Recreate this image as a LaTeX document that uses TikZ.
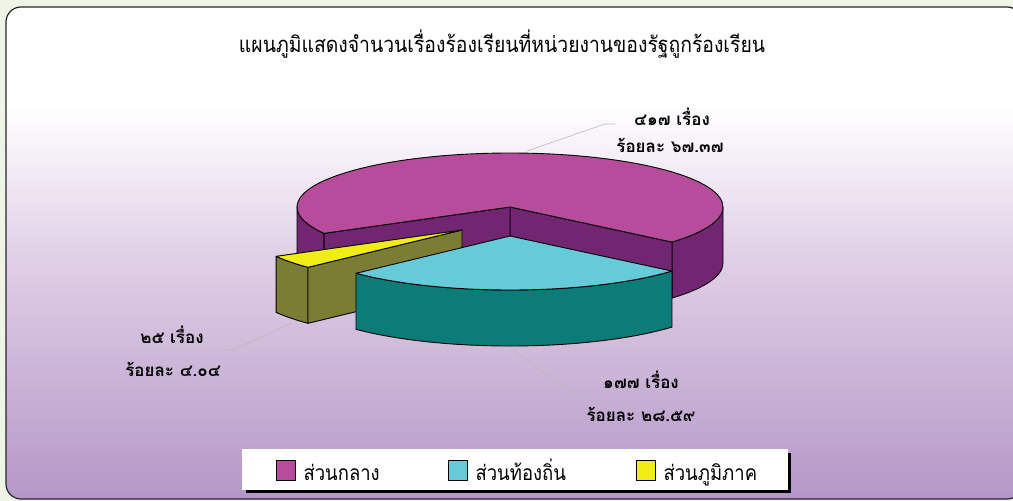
\documentclass[tikz,border=0pt]{standalone}
\usepackage{fontspec}
\newfontfamily\thaifont[Script=Thai]{Loma}
\newfontfamily\thainarrow[Script=Thai,FakeStretch=0.88]{Loma}
\usetikzlibrary{positioning}
\definecolor{outerbg}{RGB}{238,244,230}
\definecolor{panelbot}{RGB}{180,151,199}
\definecolor{panelmid}{RGB}{225,209,231}
\definecolor{maintop}{RGB}{184,76,156}
\definecolor{mainside}{RGB}{114,38,114}
\definecolor{localtop}{RGB}{102,202,216}
\definecolor{localside}{RGB}{11,124,120}
\definecolor{regiontop}{RGB}{240,236,22}
\definecolor{regionside}{RGB}{124,125,52}
\pgfdeclareverticalshading{panelshade}{100bp}{color(0bp)=(panelbot); color(25bp)=(panelbot);
  color(50bp)=(panelmid); color(65bp)=(white); color(100bp)=(white)}
\begin{document}
\begin{tikzpicture}[x=1pt,y=-1pt,line join=round,
    face/.style={draw=black,line width=0.9pt},
    rim/.style={x radius=213,y radius=54},
    leader/.style={draw=gray!55,line width=0.6pt},
    lbl/.style={font=\thaifont\bfseries\fontsize{17}{20}\selectfont,inner sep=0pt,anchor=base},
    keybox/.style={draw=black,line width=0.7pt,minimum width=19pt,minimum height=20pt,inner sep=0pt},
    keytext/.style={font=\thainarrow\fontsize{21}{25}\selectfont,inner sep=0pt}]
  \useasboundingbox (0,0) rectangle (1013,501);
  % frame
  \fill[outerbg] (0,0) rectangle (1013,501);
  \shade[shading=panelshade,rounded corners=15] (6,7) rectangle (1022,499);
  \draw[black!85,line width=1.2pt,rounded corners=15] (6,7) rectangle (1022,499);
  \node[font=\thainarrow\fontsize{22}{26}\selectfont,inner sep=0pt,anchor=base] (title) at (502,52)
    {แผนภูมิแสดงจำนวนเรื่องร้องเรียนที่หน่วยงานของรัฐถูกร้องเรียน};
  % labels
  \node[lbl] (cntmain) at (672,125) {๔๑๗ เรื่อง};
  \node[lbl] (pctmain) at (670,152) {ร้อยละ ๖๗.๓๗};
  \node[lbl] (cntlocal) at (641,388) {๑๗๗ เรื่อง};
  \node[lbl] (pctlocal) at (641,421) {ร้อยละ ๒๘.๕๙};
  \node[lbl] (cntregion) at (172,343) {๒๕ เรื่อง};
  \node[lbl] (pctregion) at (173,376) {ร้อยละ ๔.๐๔};
  \coordinate (endmain) at (615,124);
  \coordinate (kneemain) at (605,124);
  \coordinate (tipmain) at (527,151);
  \coordinate (endlocal) at (588,395);
  \coordinate (kneelocal) at (575,395);
  \coordinate (tiplocal) at (513,350);
  \coordinate (endregion) at (222,350);
  \coordinate (kneeregion) at (233,350);
  \coordinate (tipregion) at (292,323);
  \draw[leader] (endmain) -- (kneemain) -- (tipmain);
  \draw[leader] (endlocal) -- (kneelocal) -- (tiplocal);
  \draw[leader] (endregion) -- (kneeregion) -- (tipregion);
  % pie
  \coordinate (M) at (510,207);
  \coordinate (Y) at (462,230);
  \coordinate (L) at (510,236);
  \filldraw[face,fill=mainside] (M) ++(0:213 and 54) arc[rim,start angle=0,end angle=40.5]
    -- ++(0,56) arc[rim,start angle=40.5,end angle=0] -- cycle;
  \filldraw[face,fill=mainside] (M) ++(150.8:213 and 54) arc[rim,start angle=150.8,end angle=180]
    -- ++(0,56) arc[rim,start angle=180,end angle=150.8] -- cycle;
  \filldraw[face,fill=mainside] (M) -- ++(40.5:213 and 54) -- ++(0,56) -- ++(220.5:213 and 54) -- cycle;
  \filldraw[face,fill=mainside] (M) -- ++(150.8:213 and 54) -- ++(0,56) -- ++(330.8:213 and 54) -- cycle;
  \filldraw[face,fill=maintop] (M) -- ++(40.5:213 and 54) arc[rim,start angle=40.5,end angle=-209.2] -- cycle;
  \filldraw[face,fill=regionside] (Y) ++(136.3:213 and 54) arc[rim,start angle=136.3,end angle=150.8]
    -- ++(0,56) arc[rim,start angle=150.8,end angle=136.3] -- cycle;
  \filldraw[face,fill=regionside] (Y) -- ++(136.3:213 and 54) -- ++(0,56) -- ++(316.3:213 and 54) -- cycle;
  \filldraw[face,fill=regiontop] (Y) -- ++(136.3:213 and 54) arc[rim,start angle=136.3,end angle=150.8] -- cycle;
  \filldraw[face,fill=localside] (L) ++(40.5:213 and 54) arc[rim,start angle=40.5,end angle=136.3]
    -- ++(0,56) arc[rim,start angle=136.3,end angle=40.5] -- cycle;
  \filldraw[face,fill=localtop] (L) -- ++(40.5:213 and 54) arc[rim,start angle=40.5,end angle=136.3] -- cycle;
  % legend
  \fill[black] (246,453) rectangle (791,493);
  \fill[white] (242,449) rectangle (788,490);
  \node[keybox,fill=maintop] (keymain) at (285.5,470.5) {};
  \node[keybox,fill=localtop] (keylocal) at (457.5,470.5) {};
  \node[keybox,fill=regiontop] (keyregion) at (645.5,470.5) {};
  \node[keytext,right=8pt of keymain.south east,anchor=base west] (txtmain) {ส่วนกลาง};
  \node[keytext,right=8pt of keylocal.south east,anchor=base west] (txtlocal) {ส่วนท้องถิ่น};
  \node[keytext,right=8pt of keyregion.south east,anchor=base west] (txtregion) {ส่วนภูมิภาค};
\end{tikzpicture}
\end{document}
